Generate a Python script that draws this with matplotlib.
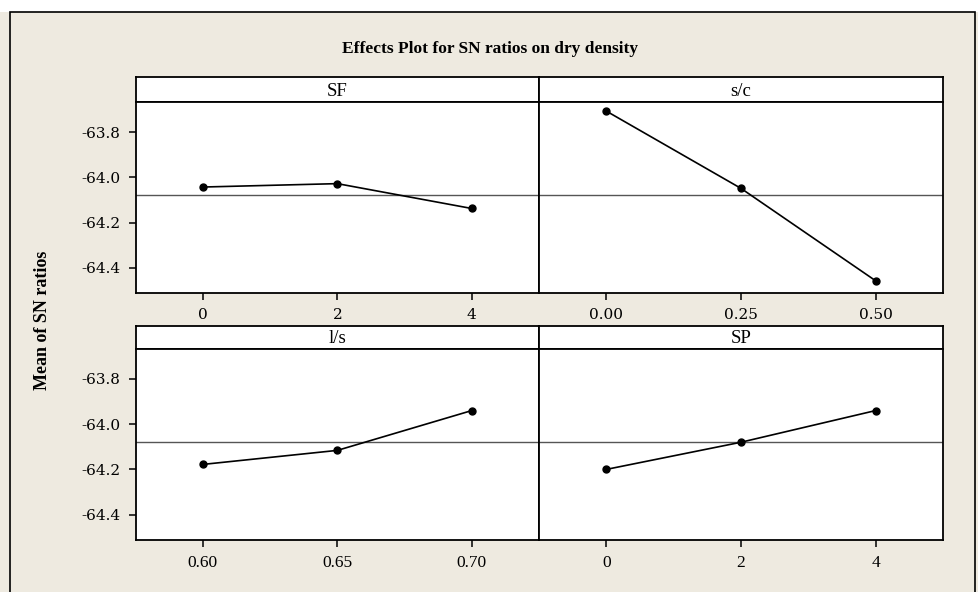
import matplotlib.pyplot as plt
from matplotlib.patches import Rectangle

plt.rcParams['font.family'] = ['Liberation Serif', 'DejaVu Serif']

# Factor levels and mean SN ratios
factors = ['SF', 's/c', 'l/s', 'SP']
levels = [[0, 2, 4], [0.00, 0.25, 0.50], [0.60, 0.65, 0.70], [0, 2, 4]]
tick_labels = [['0', '2', '4'], ['0.00', '0.25', '0.50'],
               ['0.60', '0.65', '0.70'], ['0', '2', '4']]
sn_means = [[-64.043, -64.028, -64.138],
            [-63.707, -64.049, -64.458],
            [-64.178, -64.116, -63.940],
            [-64.200, -64.080, -63.940]]
grand_mean = -64.08
yticks = [-63.8, -64.0, -64.2, -64.4]

W, H = 979, 592
bg = '#eeeae0'
fig = plt.figure(figsize=(W / 100, H / 100), dpi=100, facecolor=bg)

# white strip above the frame and the outer frame
fig.add_artist(Rectangle((0, 1 - 12 / H), 1, 12 / H, transform=fig.transFigure,
                         facecolor='white', edgecolor='none', zorder=0))
fig.add_artist(Rectangle((10 / W, -0.05), 965 / W, 1.05 - 12 / H, transform=fig.transFigure,
                         facecolor='none', edgecolor='black', linewidth=1.2, zorder=5))

fig.text(490 / W, 1 - 49 / H, 'Effects Plot for SN ratios on dry density',
         ha='center', va='center', fontsize=12.5, fontweight='bold')
fig.text(43 / W, 1 - 320 / H, 'Mean of SN ratios', rotation=90,
         ha='center', va='center', fontsize=13, fontweight='bold')

cols = [(135.7, 539.0), (539.0, 943.0)]
rows = [(77.3, 102.3, 293.0), (326.0, 349.0, 540.0)]

for i, name in enumerate(factors):
    r, c = divmod(i, 2)
    x0, x1 = cols[c]
    s_top, p_top, p_bot = rows[r]

    # panel strip with factor name
    sax = fig.add_axes([x0 / W, 1 - p_top / H, (x1 - x0) / W, (p_top - s_top) / H])
    sax.set_xticks([])
    sax.set_yticks([])
    sax.set_facecolor('white')
    for sp in sax.spines.values():
        sp.set_linewidth(1.3)
    sax.text(0.5, 0.45, name, transform=sax.transAxes, ha='center', va='center', fontsize=13.5)

    ax = fig.add_axes([x0 / W, 1 - p_bot / H, (x1 - x0) / W, (p_bot - p_top) / H])
    ax.set_facecolor('white')
    lv = levels[i]
    step = lv[1] - lv[0]
    ax.axhline(grand_mean, color='#555555', linewidth=1.0)
    ax.plot(lv, sn_means[i], color='black', linewidth=1.2, marker='o', markersize=5)
    ax.set_xlim(lv[0] - step / 2, lv[-1] + step / 2)
    ax.set_ylim(-64.512, -63.668)
    ax.set_xticks(lv)
    ax.set_yticks(yticks)
    ax.set_yticklabels([f'{v:.1f}' for v in yticks], family='DejaVu Serif', fontsize=11)
    if r == 0:
        ax.set_xticklabels(tick_labels[i], family='DejaVu Serif', fontsize=11)
    else:
        ax.set_xticklabels(tick_labels[i], fontsize=12.5)
    ax.tick_params(direction='out', length=5, width=1.1, pad=6)
    if c == 1:
        ax.tick_params(axis='y', left=False, labelleft=False)
    for sp in ax.spines.values():
        sp.set_linewidth(1.3)

fig.savefig('out.png', dpi=100, facecolor=bg)
